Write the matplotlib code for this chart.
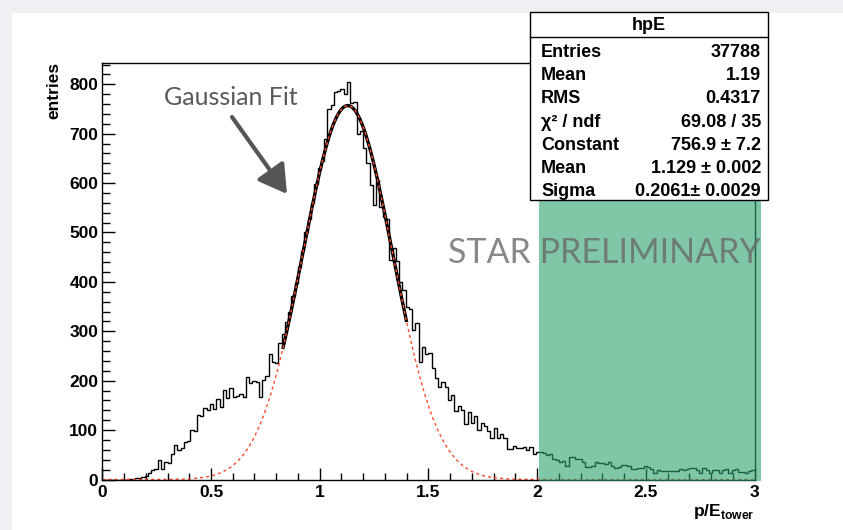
import matplotlib; matplotlib.use("Agg")
import matplotlib.pyplot as plt
import numpy as np
from matplotlib.patches import Rectangle
from matplotlib.ticker import MultipleLocator, FuncFormatter

plt.rcParams['font.family'] = ['Liberation Sans', 'DejaVu Sans']
plt.rcParams['mathtext.fontset'] = 'custom'
plt.rcParams['mathtext.bf'] = 'Liberation Sans:bold'
plt.rcParams['mathtext.rm'] = 'Liberation Sans'

# histogram hpE: 200 bins over p/E in [0, 3]
x_range = (0.0, 3.0)
counts = [
    0, 0, 0, 0, 0, 0, 0, 0, 1, 2, 3, 3, 6, 8, 14, 20, 21, 40, 22, 35,
    33, 52, 70, 60, 63, 76, 78, 100, 99, 131, 128, 144, 141, 153, 143, 162, 146, 181, 164, 186,
    168, 170, 174, 166, 208, 196, 200, 198, 168, 201, 209, 254, 238, 235, 277, 294, 318, 340, 372, 398,
    430, 462, 500, 528, 560, 598, 630, 645, 690, 750, 758, 785, 786, 790, 780, 804, 762, 765, 700, 705,
    672, 640, 596, 556, 606, 552, 532, 528, 445, 468, 442, 400, 383, 350, 346, 303, 316, 238, 268, 255,
    257, 225, 205, 188, 197, 188, 161, 171, 139, 149, 141, 112, 137, 114, 128, 100, 114, 108, 99, 83,
    105, 85, 92, 84, 61, 62, 68, 63, 63, 65, 60, 65, 52, 56, 56, 53, 50, 51, 42, 39,
    36, 38, 27, 45, 45, 42, 42, 36, 26, 26, 27, 36, 33, 34, 31, 36, 27, 24, 25, 29,
    29, 27, 21, 21, 24, 23, 27, 25, 21, 14, 20, 17, 17, 17, 17, 18, 17, 21, 20, 21,
    24, 23, 20, 14, 24, 20, 13, 20, 20, 14, 20, 21, 14, 20, 21, 15, 15, 13, 18, 20,
]

# gaussian fit parameters (from the stats box)
fit_const, fit_mean, fit_sigma = 756.9, 1.129, 0.2061
fit_range = (0.83, 1.40)

stat_labels = ["Entries", "Mean", "RMS", "χ² / ndf", "Constant", "Mean", "Sigma"]
stat_values = ["37788", "1.19", "0.4317", "69.08 / 35", "756.9 ± 7.2", "1.129 ± 0.002", "0.2061± 0.0029"]

xticks = [0, 0.5, 1, 1.5, 2, 2.5, 3]

W, H = 843, 530
fig = plt.figure(figsize=(W / 100, H / 100), dpi=100, facecolor="white")

def box(x0, y0, x1, y1):
    return [x0 / W, 1 - y1 / H, (x1 - x0) / W, (y1 - y0) / H]

# slide background strips
bg = fig.add_axes([0, 0, 1, 1], zorder=0)
bg.set_xlim(0, W); bg.set_ylim(H, 0); bg.axis("off")
bg.add_patch(Rectangle((0, 0), 12, H, color="#eef0f3", lw=0))
bg.add_patch(Rectangle((0, 0), W, 13, color="#eef0f3", lw=0))

ax = fig.add_axes(box(102.3, 62.7, 754.5, 479.5), zorder=1)
edges = np.linspace(x_range[0], x_range[1], len(counts) + 1)
ax.stairs(counts, edges, color="black", lw=1.0, baseline=None)

def gauss(x):
    return fit_const * np.exp(-0.5 * ((x - fit_mean) / fit_sigma) ** 2)

xf = np.linspace(x_range[0], x_range[1], 1200)
xr = np.linspace(fit_range[0], fit_range[1], 300)
ax.plot(xr, gauss(xr), color="black", lw=2.4, solid_capstyle="butt")
ax.plot(xf, gauss(xf), color="#ff4a2a", lw=1.0, dashes=(2.2, 2.2))

ax.set_xlim(*x_range)
ax.set_ylim(0, 843.7)
ax.set_xticks(xticks)
ax.xaxis.set_minor_locator(MultipleLocator(0.1))
ax.yaxis.set_major_locator(MultipleLocator(100))
ax.yaxis.set_minor_locator(MultipleLocator(20))
fmt = FuncFormatter(lambda v, p: f"{v:g}")
ax.xaxis.set_major_formatter(fmt)
ax.yaxis.set_major_formatter(fmt)
ax.tick_params(which="both", direction="in", top=False, right=False, width=1)
ax.tick_params(axis="x", which="major", length=8.6, pad=4, labelsize=12.5)
ax.tick_params(axis="x", which="minor", length=5)
ax.tick_params(axis="y", which="major", length=9.4, pad=3, labelsize=12.5)
ax.tick_params(axis="y", which="minor", length=5.8)
for lab in ax.get_xticklabels() + ax.get_yticklabels():
    lab.set_fontweight("bold")
for sp in ax.spines.values():
    sp.set_linewidth(1)

# overlay in pixel coordinates
ov = fig.add_axes([0, 0, 1, 1], zorder=3)
ov.set_xlim(0, W); ov.set_ylim(H, 0); ov.axis("off")
ov.patch.set_alpha(0)

ov.text(54, 62, "entries", rotation=90, ha="center", va="top", fontsize=12.5, fontweight="bold")
ov.text(754, 516, r"$\mathbf{p/E}_{\mathbf{tower}}$", ha="right", va="baseline", fontsize=12.5)

ov.add_patch(Rectangle((539, 201), 222, 280, color="#2aa26c", alpha=0.6, lw=0, zorder=1))
ov.text(448, 263, "STAR PRELIMINARY", ha="left", va="baseline", fontsize=24.5,
        family="Lato", color="#6a6a6a", alpha=0.8, zorder=2)

ov.text(298, 105, "Gaussian Fit", ha="right", va="baseline", fontsize=18,
        family="Lato", color="#5a5a5a")
ov.annotate("", xy=(287, 194), xytext=(232, 117),
            arrowprops=dict(arrowstyle="-|>,head_length=0.85,head_width=0.5", color="#555555",
                            lw=3, shrinkA=0, shrinkB=0, mutation_scale=20))

# stats box
ov.add_patch(Rectangle((530, 12), 238, 188, fc="white", ec="black", lw=1, zorder=5))
ov.plot([530, 768], [37, 37], color="black", lw=1, zorder=6)
ov.text(649, 25, "hpE", ha="center", va="center", fontsize=13, fontweight="bold", zorder=6)
for k, (lab, val) in enumerate(zip(stat_labels, stat_values)):
    yb = 56.7 + 23.3 * k
    ov.text(541, yb, lab, ha="left", va="baseline", fontsize=13, fontweight="bold", zorder=6)
    ov.text(761, yb, val, ha="right", va="baseline", fontsize=13, fontweight="bold", zorder=6)

fig.savefig("out.png", dpi=100, facecolor=fig.get_facecolor())
print("saved")
